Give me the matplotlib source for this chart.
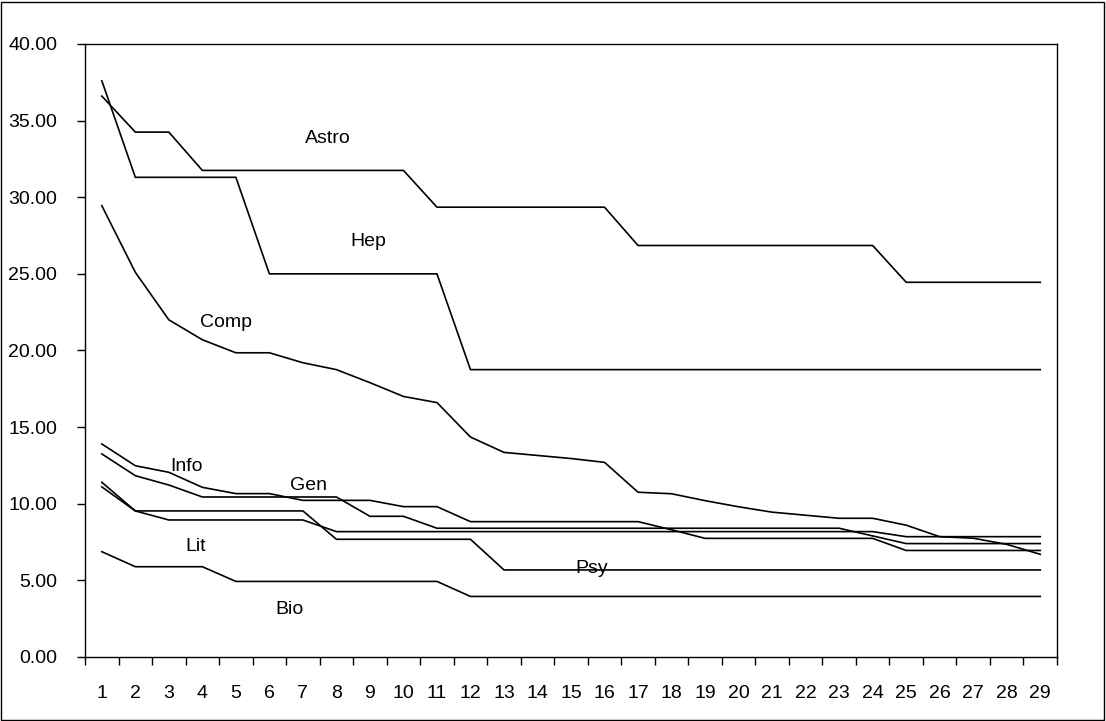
import numpy as np
import matplotlib
matplotlib.use("Agg")
from matplotlib import pyplot as plt
from matplotlib.patches import Rectangle

plt.rcParams['font.family'] = ['Liberation Sans', 'DejaVu Sans']

# categories on the x axis
ranks = list(range(1, 30))

# series values
astro = [36.6, 34.25, 34.25, 31.75, 31.75, 31.75, 31.75, 31.75, 31.75, 31.75,
         29.35, 29.35, 29.35, 29.35, 29.35, 29.35, 26.85, 26.85, 26.85, 26.85,
         26.85, 26.85, 26.85, 26.85, 24.45, 24.45, 24.45, 24.45, 24.45]
hep = [37.6, 31.3, 31.3, 31.3, 31.3, 25.0, 25.0, 25.0, 25.0, 25.0,
       25.0, 18.75, 18.75, 18.75, 18.75, 18.75, 18.75, 18.75, 18.75, 18.75,
       18.75, 18.75, 18.75, 18.75, 18.75, 18.75, 18.75, 18.75, 18.75]
comp = [29.45, 25.1, 22.0, 20.7, 19.85, 19.85, 19.2, 18.75, 17.9, 17.0,
        16.6, 14.35, 13.35, 13.15, 12.95, 12.7, 10.75, 10.65, 10.2, 9.8,
        9.45, 9.25, 9.05, 9.05, 8.6, 7.85, 7.75, 7.35, 6.7]
info = [13.9, 12.48, 12.05, 11.07, 10.66, 10.66, 10.22, 10.22, 10.22, 9.81,
        9.81, 8.83, 8.83, 8.83, 8.83, 8.83, 8.83, 8.3, 7.74, 7.74,
        7.74, 7.74, 7.74, 7.74, 6.95, 6.95, 6.95, 6.95, 6.95]
gen = [13.25, 11.83, 11.22, 10.44, 10.44, 10.44, 10.44, 10.44, 9.18, 9.18,
       8.4, 8.4, 8.4, 8.4, 8.4, 8.4, 8.4, 8.4, 8.4, 8.4,
       8.4, 8.4, 8.4, 7.9, 7.4, 7.4, 7.4, 7.4, 7.4]
lit = [11.1, 9.53, 8.94, 8.94, 8.94, 8.94, 8.94, 8.18, 8.18, 8.18,
       8.18, 8.18, 8.18, 8.18, 8.18, 8.18, 8.18, 8.18, 8.18, 8.18,
       8.18, 8.18, 8.18, 8.18, 7.85, 7.85, 7.85, 7.85, 7.85]
psy = [11.4, 9.53, 9.53, 9.53, 9.53, 9.53, 9.53, 7.68, 7.68, 7.68,
       7.68, 7.68, 5.68, 5.68, 5.68, 5.68, 5.68, 5.68, 5.68, 5.68,
       5.68, 5.68, 5.68, 5.68, 5.68, 5.68, 5.68, 5.68, 5.68]
bio = [6.87, 5.89, 5.89, 5.89, 4.93, 4.93, 4.93, 4.93, 4.93, 4.93,
       4.93, 3.95, 3.95, 3.95, 3.95, 3.95, 3.95, 3.95, 3.95, 3.95,
       3.95, 3.95, 3.95, 3.95, 3.95, 3.95, 3.95, 3.95, 3.95]

series = [astro, hep, comp, info, gen, lit, psy, bio]

# text labels and where they sit (rank, value)
label_names = ["Astro", "Hep", "Comp", "Info", "Gen", "Lit", "Psy", "Bio"]
label_x = [7.75, 8.94, 4.71, 3.54, 7.17, 3.79, 15.62, 6.59]
label_y = [33.8, 27.1, 21.8, 12.46, 11.16, 7.18, 5.8, 3.13]

fig = plt.figure(figsize=(11.06, 7.21), dpi=100)
ax = fig.add_axes([0.0769, 0.0888, 0.8788, 0.8502])

for s in series:
    ax.plot(ranks, s, color="black", lw=1.2)

for name, lx, ly in zip(label_names, label_x, label_y):
    ax.text(lx, ly, name, fontsize=14, ha="center", va="center")

ax.set_xlim(0.5, 29.5)
ax.set_ylim(0, 40)
ax.set_yticks(np.arange(0, 41, 5))
ax.set_yticklabels(["%.2f" % v for v in np.arange(0, 41, 5)])
ax.set_xticks(ranks)
ax.set_xticklabels([str(r) for r in ranks])
ax.set_xticks(np.arange(0.5, 30, 1), minor=True)
ax.tick_params(axis="x", which="major", length=0, pad=20, labelsize=14)
ax.tick_params(axis="x", which="minor", length=6, width=1, direction="out")
ax.tick_params(axis="y", which="major", length=6, width=1, direction="out",
               pad=14, labelsize=14)
for sp in ax.spines.values():
    sp.set_linewidth(1.0)

# outer frame round the whole chart
fig.add_artist(Rectangle((0.0009, 0.0014), 0.9973, 0.9958, transform=fig.transFigure,
                         fill=False, edgecolor="black", lw=1.0))

fig.savefig("out.png", dpi=100)
